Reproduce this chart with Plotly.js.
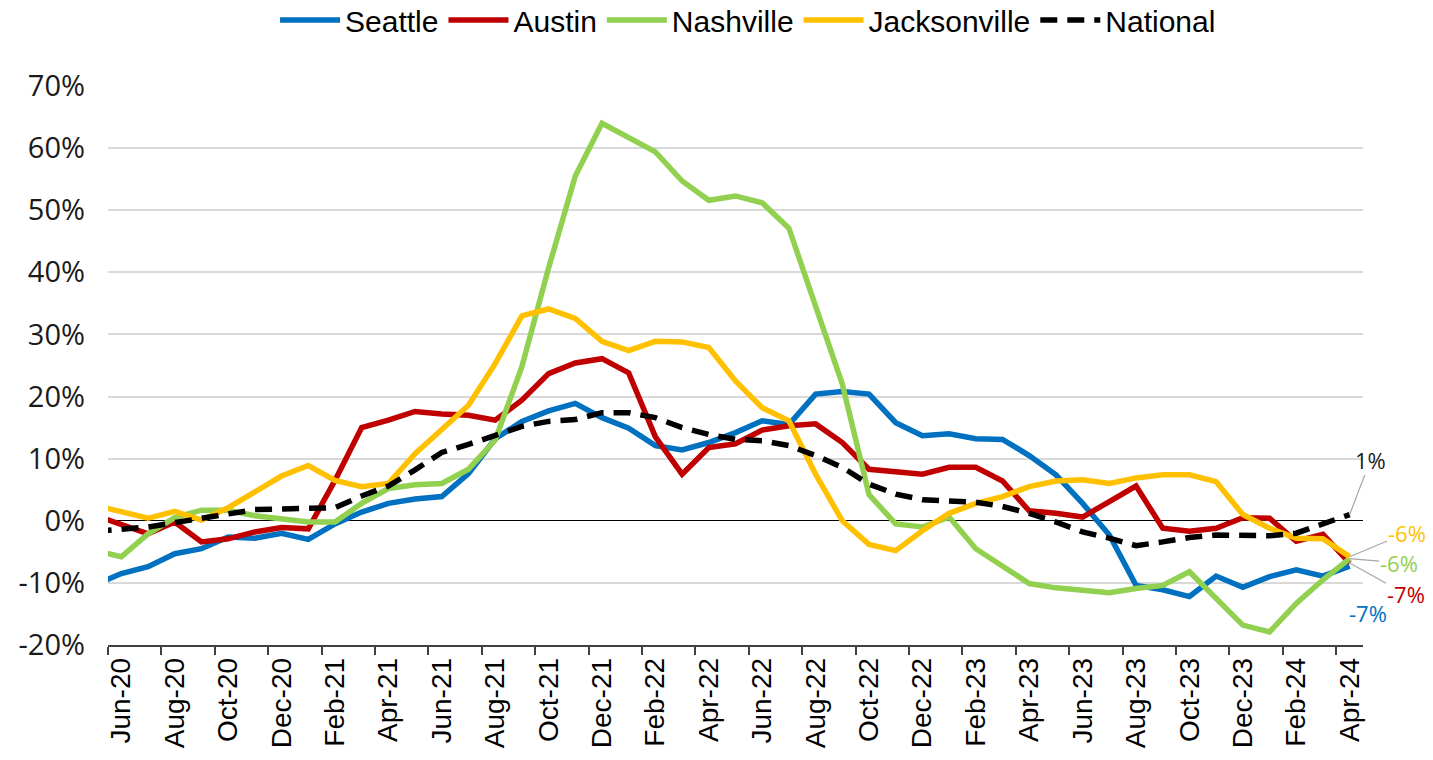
<!DOCTYPE html>
<html>
<head>
<meta charset="utf-8">
<script src="https://cdn.plot.ly/plotly-3.0.1.min.js"></script>
<style>
  html, body { margin: 0; padding: 0; background: #fff; }
  #chart { width: 1433px; height: 760px; }
</style>
</head>
<body>
<div id="chart"></div>
<script>
// months (May-20 sits half outside the left edge, as in the original)
let months = ["May-20","Jun-20","Jul-20","Aug-20","Sep-20","Oct-20","Nov-20","Dec-20",
  "Jan-21","Feb-21","Mar-21","Apr-21","May-21","Jun-21","Jul-21","Aug-21","Sep-21","Oct-21","Nov-21","Dec-21",
  "Jan-22","Feb-22","Mar-22","Apr-22","May-22","Jun-22","Jul-22","Aug-22","Sep-22","Oct-22","Nov-22","Dec-22",
  "Jan-23","Feb-23","Mar-23","Apr-23","May-23","Jun-23","Jul-23","Aug-23","Sep-23","Oct-23","Nov-23","Dec-23",
  "Jan-24","Feb-24","Mar-24","Apr-24"];

// year-over-year change, %
let seattle = [-10.3,-8.5,-7.4,-5.3,-4.5,-2.6,-2.8,-2.0,
  -3.0,-0.5,1.4,2.8,3.5,3.9,7.6,13.2,16.0,17.7,18.9,16.6,
  14.9,12.1,11.4,12.6,14.2,16.1,15.5,20.4,20.8,20.4,15.8,13.7,
  14.0,13.2,13.1,10.5,7.4,2.8,-2.3,-10.4,-11.1,-12.2,-8.9,-10.7,
  -9.0,-7.9,-8.9,-7.3];

let austin = [0.9,-0.7,-2.1,-0.2,-3.4,-2.9,-1.8,-1.1,
  -1.3,6.5,15.0,16.2,17.6,17.2,17.0,16.2,19.4,23.7,25.4,26.1,
  23.8,13.5,7.5,11.8,12.4,14.6,15.3,15.6,12.6,8.3,7.8,7.5,
  8.6,8.6,6.4,1.6,1.2,0.6,3.1,5.6,-1.2,-1.7,-1.2,0.5,
  0.4,-3.3,-2.2,-6.8];

let nashville = [-4.8,-5.8,-2.1,0.5,1.7,1.7,0.8,0.2,
  -0.2,-0.2,2.8,5.2,5.8,6.0,8.3,13.0,24.8,40.7,55.5,64.0,
  61.8,59.4,54.7,51.6,52.3,51.2,47.1,34.8,22.0,4.2,-0.5,-1.0,
  0.6,-4.5,-7.4,-10.1,-10.8,-11.3,-11.6,-10.9,-10.4,-8.2,-12.4,-16.8,
  -17.9,-13.3,-9.5,-6.1];

let jacksonville = [2.5,1.5,0.4,1.5,0.1,2.1,4.7,7.2,
  8.9,6.5,5.5,6.0,10.8,14.8,18.6,25.3,33.0,34.1,32.6,28.9,
  27.4,28.9,28.8,27.9,22.5,18.2,16.1,7.5,0.0,-3.8,-4.8,-1.6,
  1.2,2.8,3.9,5.5,6.4,6.6,6.0,6.9,7.4,7.4,6.3,1.0,
  -1.2,-2.8,-2.9,-5.8];

let national = [-1.7,-1.3,-1.0,-0.3,0.4,1.3,1.8,1.9,
  1.9,2.1,4.0,5.6,8.2,11.0,12.3,13.8,15.2,16.0,16.3,17.4,
  17.4,16.6,15.0,13.9,13.1,12.9,12.1,10.5,8.6,5.9,4.3,3.4,
  3.2,3.0,2.3,1.2,-0.2,-1.8,-2.8,-4.0,-3.4,-2.7,-2.3,-2.3,
  -2.4,-2.0,-0.5,1.0];

let yTicks = [-20, -10, 0, 10, 20, 30, 40, 50, 60, 70];

let names = ["Seattle", "Austin", "Nashville", "Jacksonville", "National"];
let colors = ["#0070C0", "#C00000", "#92D050", "#FFC000", "#000000"];
let series = [seattle, austin, nashville, jacksonville, national];

let data = series.map(function (ys, k) {
  return {
    x: months,
    y: ys,
    name: names[k],
    type: "scatter",
    mode: "lines",
    line: {
      color: colors[k],
      width: 5.5,
      dash: names[k] === "National" ? "17px,10px" : "solid"
    },
    hoverinfo: "x+y+name"
  };
});

// end-of-line value labels with grey leader lines
let labelOffsets = {
  Seattle: [18, 47],
  Austin: [56, 31],
  Nashville: [49, 4],
  Jacksonville: [57, -24],
  National: [21, -55]
};
let last = months[months.length - 1];
let annotations = series.map(function (ys, k) {
  let v = ys[ys.length - 1];
  let off = labelOffsets[names[k]];
  return {
    x: last,
    y: v,
    xref: "x",
    yref: "y",
    text: Math.round(v) + "%",
    showarrow: true,
    arrowhead: 0,
    arrowwidth: 1.2,
    arrowcolor: names[k] === "Seattle" ? "rgba(0,0,0,0)" : "#a6a6a6",
    standoff: 0,
    borderpad: 0,
    ax: off[0],
    ay: off[1],
    font: { family: "Open Sans", size: 22, color: names[k] === "National" ? "#1a1a1a" : colors[k] }
  };
});

let layout = {
  width: 1433,
  height: 760,
  margin: { l: 108, r: 70, t: 86, b: 115, autoexpand: false },
  paper_bgcolor: "#ffffff",
  plot_bgcolor: "#ffffff",
  showlegend: true,
  legend: {
    orientation: "h",
    x: 0.51,
    xanchor: "center",
    y: 1.118,
    yanchor: "middle",
    font: { family: "Liberation Sans", size: 30, color: "#000000" },
    itemwidth: 60,
    traceorder: "normal"
  },
  xaxis: {
    type: "category",
    range: [0.5, months.length - 0.5],
    tickmode: "linear",
    tick0: 1,
    dtick: 2,
    tickson: "boundaries",
    tickangle: -90,
    ticks: "outside",
    ticklen: 8,
    tickwidth: 1.5,
    tickcolor: "#404040",
    showline: true,
    linecolor: "#404040",
    linewidth: 1.5,
    showgrid: false,
    zeroline: false,
    tickfont: { family: "Liberation Sans", size: 28, color: "#000000" }
  },
  yaxis: {
    range: [-20, 70],
    tickmode: "array",
    tickvals: yTicks,
    ticktext: yTicks.map(function (t) { return t + "%"; }),
    ticklabelstandoff: 22,
    showgrid: true,
    gridcolor: "#d9d9d9",
    gridwidth: 1.5,
    zeroline: true,
    zerolinecolor: "#000000",
    zerolinewidth: 1.3,
    showline: false,
    ticks: "",
    tickfont: { family: "Open Sans", size: 29, color: "#1a1a1a" }
  },
  annotations: annotations
};

Plotly.newPlot("chart", data, layout, { displayModeBar: false, responsive: false });
</script>
</body>
</html>
